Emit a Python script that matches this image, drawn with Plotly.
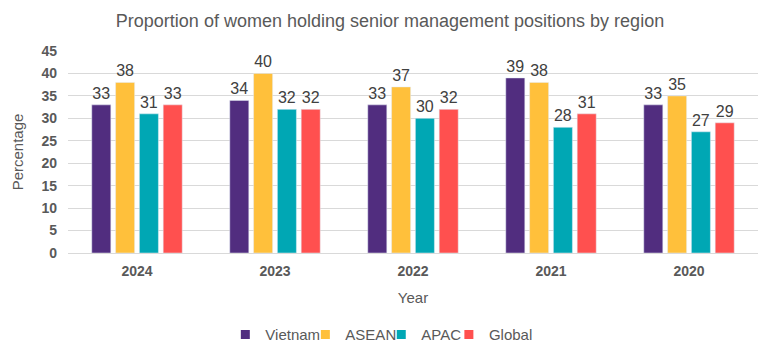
import plotly.graph_objects as go

years = ["2024", "2023", "2022", "2021", "2020"]
vietnam = [33, 34, 33, 39, 33]
asean = [38, 40, 37, 38, 35]
apac = [31, 32, 30, 28, 27]
global_ = [33, 32, 32, 31, 29]
y_ticks = [0, 5, 10, 15, 20, 25, 30, 35, 40, 45]

series_names = ["Vietnam", "ASEAN", "APAC", "Global"]
series_values = [vietnam, asean, apac, global_]
series_colors = ["#512D7F", "#FFC03B", "#00A7B4", "#FF504F"]
legend_ids = ["legend", "legend2", "legend3", "legend4"]
legend_x = [0.228, 0.344, 0.454, 0.552]

FONT = "Arial, Liberation Sans, sans-serif"

fig = go.Figure()
for name, vals, color in zip(series_names, series_values, series_colors):
    fig.add_trace(go.Bar(
        name=name, x=years, y=vals, marker_color=color,
        text=vals, textposition="outside",
        textfont=dict(size=16, color="#404040", family=FONT),
        cliponaxis=False, showlegend=False,
    ))
# legend entries with small square markers, one legend each for tight spacing
for name, color, lid in zip(series_names, series_colors, legend_ids):
    fig.add_trace(go.Scatter(
        name=name, x=[None], y=[None], mode="markers",
        marker=dict(symbol="square", size=9, color=color),
        showlegend=True, legend=lid,
    ))

legend_common = dict(orientation="h", xanchor="left", yref="container",
                     y=0.058, yanchor="middle",
                     font=dict(size=15, color="#595959", family=FONT), itemwidth=30,
                     bgcolor="rgba(0,0,0,0)")

fig.update_layout(
    width=764, height=347,
    margin=dict(l=60, r=14, t=43, b=102),
    paper_bgcolor="white", plot_bgcolor="white",
    font=dict(family=FONT, color="#595959"),
    title=dict(text="Proportion of women holding senior management positions by region",
               x=0.5, xanchor="center", y=0.963, yanchor="middle",
               font=dict(size=18, color="#595959")),
    barmode="group", bargap=0.31, bargroupgap=0.2,
    xaxis=dict(title=dict(text="Year", font=dict(size=15, color="#595959"), standoff=14),
               tickfont=dict(size=14, color="#595959", family=FONT, weight="bold"),
               ticklabelstandoff=5,
               showline=True, linecolor="#D9D9D9", ticks="", automargin=False),
    yaxis=dict(title=dict(text="Percentage", font=dict(size=15, color="#595959"), standoff=14),
               range=[0, 45], tickvals=y_ticks,
               tickfont=dict(size=14, color="#595959", family=FONT, weight="bold"),
               ticklabelstandoff=10,
               gridcolor="#D9D9D9", zeroline=False, automargin=False),
)
for lid, lx in zip(legend_ids, legend_x):
    fig.update_layout({lid: dict(x=lx, **legend_common)})

fig.write_html("out.html")
